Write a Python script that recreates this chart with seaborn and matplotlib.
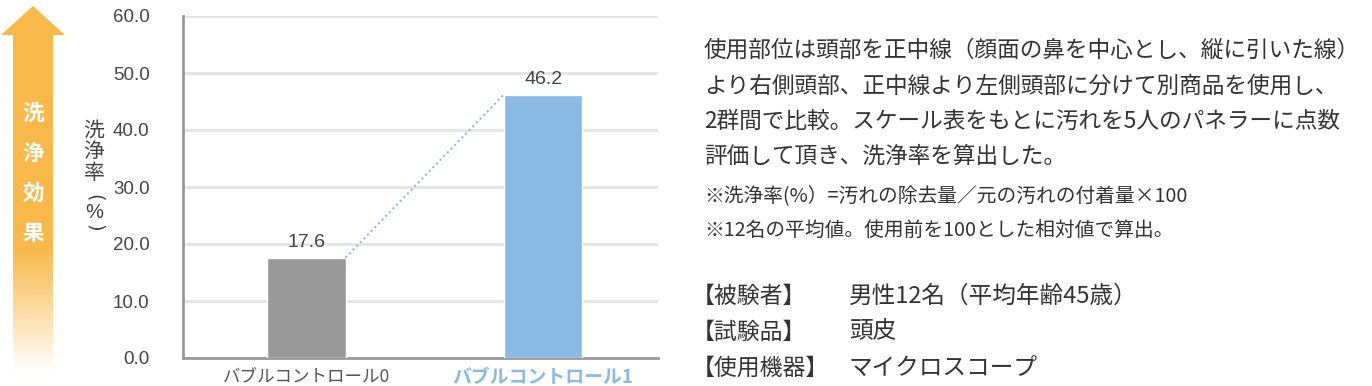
import numpy as np
import pandas as pd
import matplotlib
matplotlib.use("Agg")
import matplotlib.pyplot as plt
import seaborn as sns
from matplotlib.patches import Polygon

# ---- data ----
categories = ["バブルコントロール0", "バブルコントロール1"]
values = [17.6, 46.2]
bar_colors = ["#999999", "#8ab9e5"]
yticks = [0, 10, 20, 30, 40, 50, 60]

desc_lines = [
    "使用部位は頭部を正中線（顔面の鼻を中心とし、縦に引いた線）",
    "より右側頭部、正中線より左側頭部に分けて別商品を使用し、",
    "2群間で比較。スケール表をもとに汚れを5人のパネラーに点数",
    "評価して頂き、洗浄率を算出した。",
]
note_lines = [
    "※洗浄率(%）=汚れの除去量／元の汚れの付着量×100",
    "※12名の平均値。使用前を100とした相対値で算出。",
]
info_keys = ["【被験者】", "【試験品】", "【使用機器】"]
info_vals = ["男性12名（平均年齢45歳）", "頭皮", "マイクロスコープ"]
arrow_label = "洗浄効果"
ylabel_chars = ["洗", "浄", "率", "(", "%", ")"]

W, H = 1372, 386
sns.set_theme(style="white")
plt.rcParams["font.family"] = ["Noto Sans CJK JP", "DejaVu Sans"]

fig = plt.figure(figsize=(W / 100, H / 100), dpi=100)
fig.patch.set_facecolor("white")


def fx(x):
    return x / W


def fy(y):
    return 1 - y / H


ax = fig.add_axes([fx(183), fy(358), fx(658) - fx(183), fy(16) - fy(358)])
df = pd.DataFrame({"cat": categories, "val": values})
width = 0.332
sns.barplot(data=df, x="cat", y="val", hue="cat", palette=bar_colors,
            width=width, legend=False, ax=ax, zorder=3, saturation=1)
ax.set_xlim(-0.52, 1.485)
ax.set_ylim(0, 60)
ax.set_yticks(yticks)
ax.set_yticklabels([f"{v:.1f}" for v in yticks],
                   family=["Liberation Sans", "DejaVu Sans"], fontsize=13.5,
                   color="#444444")
ax.tick_params(axis="y", direction="in", length=8, width=2, color="#999999", pad=24)
ax.tick_params(axis="x", length=0, pad=7)
ax.set_xlabel("")
ax.set_ylabel("")
ax.yaxis.grid(True, color="#e4e4e4", linewidth=2, zorder=0)
ax.xaxis.grid(False)
for s in ["top", "right"]:
    ax.spines[s].set_visible(False)
for s in ["left", "bottom"]:
    ax.spines[s].set_color("#999999")
    ax.spines[s].set_linewidth(2)

labels = ax.get_xticklabels()
for lab, col, fs in zip(labels, ["#555555", "#8ab9e5"], [12.6, 13.6]):
    lab.set_color(col)
    lab.set_fontsize(fs)
labels[1].set_fontweight("bold")

for cont in ax.containers:
    ax.bar_label(cont, fmt="%.1f", padding=5, fontsize=14, color="#444444",
                 family=["Liberation Sans", "DejaVu Sans"])

# dotted connector from top-right of first bar to top-left of second
ax.plot([0 + width / 2, 1 - width / 2], values, linestyle=(0, (1, 1.5)),
        color="#8ab9e5", linewidth=1.5, zorder=4)

# ---- arrow on the left ----
aax = fig.add_axes([0, 0, fx(70), 1])
aax.set_xlim(0, 70)
aax.set_ylim(H, 0)
aax.axis("off")
orange = np.array([249, 185, 74]) / 255
ys = np.linspace(0, H, 400)
alpha = np.clip((372 - ys) / (372 - 250), 0, 1)
img = np.zeros((400, 1, 4))
img[:, 0, :3] = orange
img[:, 0, 3] = alpha
poly = Polygon([(33, 6), (65, 35), (53, 35), (53, 372), (13, 372), (13, 35), (1, 35)],
               closed=True, facecolor="none", edgecolor="none",
               transform=aax.transData)
aax.add_patch(poly)
im = aax.imshow(img, extent=(0, 70, H, 0), aspect="auto", interpolation="bilinear")
im.set_clip_path(poly)
for ch, y in zip(arrow_label, [113, 153, 193, 233]):
    fig.text(fx(33), fy(y), ch, color="white", fontsize=15.5, fontweight="bold",
             ha="center", va="center")

# ---- vertical y label ----
rots = [0, 0, 0, -90, 0, -90]
fams = [None, None, None, "DejaVu Sans", "Liberation Sans", "DejaVu Sans"]
sizes = [15, 15, 15, 14, 14.5, 14]
for ch, y, r, fam, fs in zip(ylabel_chars, [131, 152, 173, 198, 213, 228], rots, fams, sizes):
    kw = {} if fam is None else {"family": fam}
    fig.text(fx(94), fy(y), ch, color="#444444", fontsize=fs, rotation=r,
             ha="center", va="center", rotation_mode="anchor", **kw)

# ---- right-hand text ----
for line, y in zip(desc_lines, [50, 86, 121, 156]):
    fig.text(fx(704), fy(y), line, color="#333333", fontsize=16.3,
             ha="left", va="center")
for line, y in zip(note_lines, [197, 231]):
    fig.text(fx(704), fy(y), line, color="#333333", fontsize=14.2,
             ha="left", va="center")
for k, v, y in zip(info_keys, info_vals, [296, 332, 368]):
    fig.text(fx(692), fy(y), k, color="#333333", fontsize=16.5, ha="left", va="center")
    fig.text(fx(849), fy(y), v, color="#333333", fontsize=17, ha="left", va="center")

fig.savefig("out.png", dpi=100, facecolor="white")
